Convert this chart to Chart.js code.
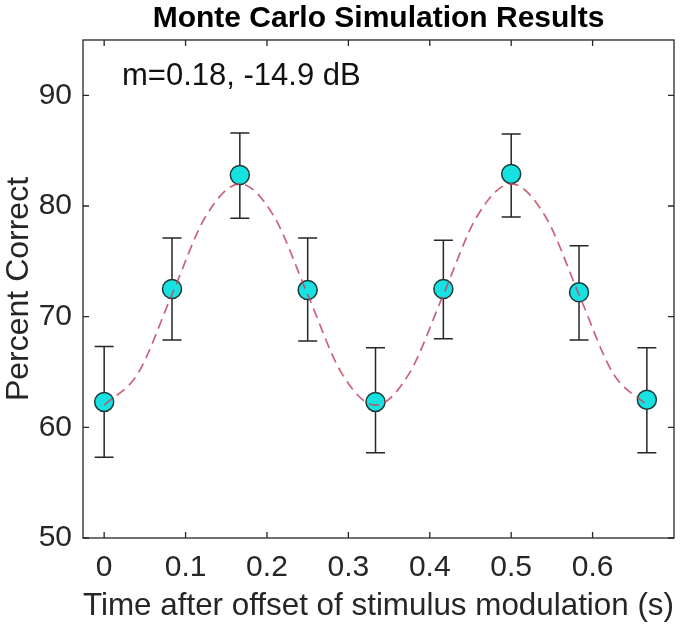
<!DOCTYPE html>
<html>
<head>
<meta charset="utf-8">
<script src="https://cdn.jsdelivr.net/npm/chart.js@4.4.0/dist/chart.umd.min.js"></script>
<style>
html, body { margin: 0; padding: 0; background: #fff; }
#wrap { width: 685px; height: 630px; }
</style>
</head>
<body>
<div id="wrap"><canvas id="myChart"></canvas></div>
<script>
// values
const times = [0, 1/12, 2/12, 3/12, 4/12, 5/12, 6/12, 7/12, 8/12];
const pctCorrect = [62.3, 72.5, 82.8, 72.4, 62.3, 72.5, 82.9, 72.2, 62.5];
const errHigh = [67.3, 77.1, 86.6, 77.1, 67.2, 76.9, 86.5, 76.4, 67.2];
const errLow = [57.3, 67.9, 78.9, 67.8, 57.7, 68.0, 79.0, 67.9, 57.7];

// dashed fit curve, read every 1/24 s
const fitTimes = [0, 0.0417, 0.0833, 0.125, 0.1667, 0.2083, 0.25, 0.2917, 0.3333,
                  0.375, 0.4167, 0.4583, 0.5, 0.5417, 0.5833, 0.625, 0.6667];
const fitValues = [62.0, 64.9, 72.0, 79.1, 82.0, 79.1, 72.0, 64.9, 62.0,
                   64.9, 72.0, 79.1, 82.0, 79.1, 72.0, 64.9, 62.0];

const xTicks = [0, 0.1, 0.2, 0.3, 0.4, 0.5, 0.6];
const xTickLabels = ['0', '0.1', '0.2', '0.3', '0.4', '0.5', '0.6'];
const yTicks = [50, 60, 70, 80, 90];
const yTickLabels = ['50', '60', '70', '80', '90'];

const FONT = "'Liberation Sans', Arial, sans-serif";
const AXIS_COLOR = '#262626';

// error bars drawn under the markers
const errorBars = {
    id: 'errorBars',
    beforeDatasetsDraw(chart) {
        const {ctx, scales: {x, y}} = chart;
        ctx.save();
        ctx.strokeStyle = AXIS_COLOR;
        ctx.lineWidth = 1.5;
        times.forEach((t, i) => {
            const px = x.getPixelForValue(t);
            const top = y.getPixelForValue(errHigh[i]);
            const bot = y.getPixelForValue(errLow[i]);
            ctx.beginPath();
            ctx.moveTo(px, top); ctx.lineTo(px, bot);
            ctx.moveTo(px - 9.5, top); ctx.lineTo(px + 9.5, top);
            ctx.moveTo(px - 9.5, bot); ctx.lineTo(px + 9.5, bot);
            ctx.stroke();
        });
        ctx.restore();
    }
};

// matlab style box with inward ticks + text note
const boxAxes = {
    id: 'boxAxes',
    afterDraw(chart) {
        const {ctx, chartArea: a, scales: {x, y}} = chart;
        ctx.save();
        ctx.strokeStyle = AXIS_COLOR;
        ctx.lineWidth = 1.3;
        ctx.strokeRect(a.left, a.top, a.right - a.left, a.bottom - a.top);
        ctx.beginPath();
        xTicks.forEach(v => {
            const px = x.getPixelForValue(v);
            ctx.moveTo(px, a.bottom); ctx.lineTo(px, a.bottom - 6);
            ctx.moveTo(px, a.top); ctx.lineTo(px, a.top + 6);
        });
        yTicks.forEach(v => {
            const py = y.getPixelForValue(v);
            ctx.moveTo(a.left, py); ctx.lineTo(a.left + 6, py);
            ctx.moveTo(a.right, py); ctx.lineTo(a.right - 6, py);
        });
        ctx.stroke();

        ctx.fillStyle = '#111';
        ctx.font = '31px ' + FONT;
        ctx.textBaseline = 'alphabetic';
        ctx.fillText('m=0.18, -14.9 dB', a.left + 39, a.top + 45);
        ctx.restore();
    }
};

const ctx = document.getElementById('myChart');
const cht = new Chart(ctx, {
    data: {
        datasets: [{
            type: 'scatter',
            label: 'fit',
            data: fitTimes.map((t, i) => ({x: t, y: fitValues[i]})),
            showLine: true,
            borderColor: 'rgba(195, 70, 95, 0.85)',
            borderWidth: 1.7,
            borderDash: [10, 6],
            pointRadius: 0,
            cubicInterpolationMode: 'monotone',
            order: 0
        }, {
            type: 'scatter',
            label: 'simulation',
            data: times.map((t, i) => ({x: t, y: pctCorrect[i]})),
            backgroundColor: '#16e2e2',
            borderColor: '#1d3b3b',
            borderWidth: 1.5,
            pointRadius: 9.5,
            pointHoverRadius: 9.5,
            order: 1
        }]
    },
    options: {
        responsive: true,
        maintainAspectRatio: false,
        animation: false,
        layout: { padding: { left: 0, right: 11, top: 0, bottom: 0 } },
        plugins: {
            legend: { display: false },
            tooltip: { enabled: false },
            title: {
                display: true,
                fullSize: false,
                text: 'Monte Carlo Simulation Results',
                color: '#000',
                font: { family: FONT, size: 30, weight: 'bold', lineHeight: 1.0 },
                padding: { top: 4, bottom: 6 }
            }
        },
        scales: {
            x: {
                type: 'linear',
                position: 'bottom',
                min: -0.026,
                max: 0.7,
                grid: { display: false, drawTicks: false },
                border: { display: false },
                afterBuildTicks: (s) => { s.ticks = xTicks.map(v => ({value: v})); },
                afterFit: (s) => { s.height = 92; },
                ticks: {
                    autoSkip: false,
                    maxRotation: 0,
                    padding: 12,
                    color: AXIS_COLOR,
                    font: { family: FONT, size: 30 },
                    callback: (v, i) => xTickLabels[i]
                },
                title: {
                    display: true,
                    text: 'Time after offset of stimulus modulation (s)',
                    color: AXIS_COLOR,
                    font: { family: FONT, size: 32 },
                    padding: { top: 0, bottom: 5 }
                }
            },
            y: {
                type: 'linear',
                min: 50,
                max: 95,
                grid: { display: false, drawTicks: false },
                border: { display: false },
                afterBuildTicks: (s) => { s.ticks = yTicks.map(v => ({value: v})); },
                afterFit: (s) => { s.width = 83; },
                ticks: {
                    autoSkip: false,
                    padding: 11,
                    color: AXIS_COLOR,
                    font: { family: FONT, size: 30 },
                    callback: (v, i) => yTickLabels[i]
                },
                title: {
                    display: true,
                    text: 'Percent Correct',
                    color: AXIS_COLOR,
                    font: { family: FONT, size: 32 },
                    padding: { top: 0, bottom: 0 }
                }
            }
        }
    },
    plugins: [errorBars, boxAxes]
});
</script>
</body>
</html>
